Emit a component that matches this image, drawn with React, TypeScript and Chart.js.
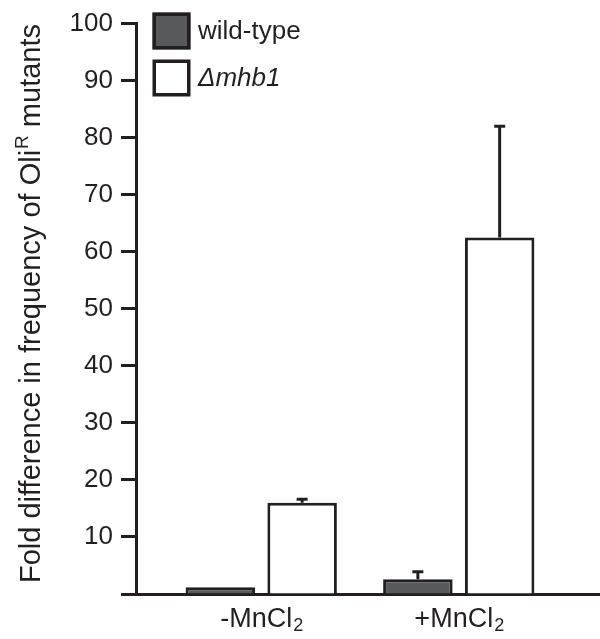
import React, { useEffect, useRef } from 'react';
import { Chart, registerables } from 'chart.js';

Chart.register(...registerables);

// ---- data ----
const categoryNames = ['-MnCl', '+MnCl'];
const categorySubscripts = ['2', '2'];
const seriesNames = ['wild-type', 'Δmhb1'];
const wildTypeValues = [1.2, 2.6];
const wildTypeErrors = [0, 1.3];
const mhb1Values = [16.0, 62.5];
const mhb1Errors = [0.6, 19.5];
const yMin = 0;
const yMax = 100;
const yStep = 10;
const yTitleMain = 'Fold difference in frequency of Oli';
const yTitleSup = 'R';
const yTitleEnd = ' mutants';

// ---- style ----
const INK = '#231f20';
const GREY = '#58595b';
const FONT = '"Liberation Sans", Arial, Helvetica, sans-serif';

const decorations = {
  id: 'decorations',
  afterDatasetsDraw(chart: any) {
    const ctx = chart.ctx;
    const yScale = chart.scales.y;
    chart.data.datasets.forEach((ds: any, di: number) => {
      const meta = chart.getDatasetMeta(di);
      meta.data.forEach((el: any, i: number) => {
        const e = ds.errors[i];
        if (!e) return;
        const v = ds.data[i].y;
        const yTop = yScale.getPixelForValue(v + e);
        const yBar = yScale.getPixelForValue(v);
        ctx.save();
        ctx.strokeStyle = INK;
        ctx.lineWidth = 3;
        ctx.beginPath();
        ctx.moveTo(el.x, yBar);
        ctx.lineTo(el.x, yTop);
        ctx.moveTo(el.x - 5.5, yTop);
        ctx.lineTo(el.x + 5.5, yTop);
        ctx.stroke();
        ctx.restore();
      });
    });
  },
  afterDraw(chart: any) {
    const ctx = chart.ctx;
    const xScale = chart.scales.x;
    const area = chart.chartArea;
    ctx.save();
    ctx.fillStyle = INK;
    ctx.textBaseline = 'alphabetic';
    ctx.textAlign = 'left';

    // x category labels with subscript
    categoryNames.forEach((name, i) => {
      const cx = xScale.getPixelForValue(i);
      ctx.font = `27px ${FONT}`;
      const w1 = ctx.measureText(name).width;
      ctx.font = `18px ${FONT}`;
      const w2 = ctx.measureText(categorySubscripts[i]).width;
      const start = cx - (w1 + w2) / 2;
      ctx.font = `27px ${FONT}`;
      ctx.fillText(name, start, area.bottom + 33);
      ctx.font = `18px ${FONT}`;
      ctx.fillText(categorySubscripts[i], start + w1 + 1, area.bottom + 37);
    });

    // y title, rotated, with superscript
    ctx.save();
    ctx.translate(40, area.bottom - 11);
    ctx.rotate(-Math.PI / 2);
    ctx.font = `29px ${FONT}`;
    const a = ctx.measureText(yTitleMain).width;
    ctx.fillText(yTitleMain, 0, 0);
    ctx.font = `19px ${FONT}`;
    const b = ctx.measureText(yTitleSup).width;
    ctx.fillText(yTitleSup, a + 1, -12);
    ctx.font = `29px ${FONT}`;
    ctx.fillText(yTitleEnd, a + b + 1, 0);
    ctx.restore();

    // legend
    const fills = [GREY, '#ffffff'];
    const boxTops = [12.5, 59.5];
    seriesNames.forEach((name, i) => {
      const bx = 152.5;
      const by = boxTops[i];
      ctx.fillStyle = fills[i];
      ctx.fillRect(bx, by, 38, 37);
      ctx.strokeStyle = INK;
      ctx.lineWidth = 3.5;
      ctx.strokeRect(bx + 1.75, by + 1.75, 34.5, 33.5);
      ctx.fillStyle = INK;
      ctx.font = `${i === 1 ? 'italic ' : ''}26px ${FONT}`;
      ctx.textBaseline = 'middle';
      ctx.fillText(name, 198, by + 19);
    });
    ctx.restore();
  },
};

export default function App() {
  const canvasRef = useRef<HTMLCanvasElement | null>(null);

  useEffect(() => {
    const canvas = canvasRef.current;
    if (!canvas) return;
    const chart = new Chart(canvas, {
      type: 'bar',
      data: {
        datasets: [
          {
            label: seriesNames[0],
            data: wildTypeValues.map((v, i) => ({ x: i, y: v })),
            errors: wildTypeErrors,
            backgroundColor: GREY,
            borderColor: INK,
            borderWidth: 3,
          } as any,
          {
            label: seriesNames[1],
            data: mhb1Values.map((v, i) => ({ x: i, y: v })),
            errors: mhb1Errors,
            backgroundColor: '#ffffff',
            borderColor: INK,
            borderWidth: 3,
          } as any,
        ],
      },
      options: {
        animation: false,
        responsive: false,
        devicePixelRatio: 1,
        categoryPercentage: 0.828,
        barPercentage: 0.85,
        layout: { padding: { top: 16, left: 0, right: 0, bottom: 0 } },
        plugins: {
          legend: { display: false },
          tooltip: { enabled: false },
          title: { display: false },
        },
        scales: {
          x: {
            type: 'linear',
            min: -0.634,
            max: 1.715,
            offset: false,
            z: 1,
            ticks: { display: false },
            grid: { display: false },
            border: { display: true, width: 3, color: INK },
            afterBuildTicks: (scale: any) => {
              scale.ticks = categoryNames.map((_, i) => ({ value: i }));
            },
            afterFit: (scale: any) => {
              scale.height = 45;
            },
          },
          y: {
            type: 'linear',
            min: yMin,
            max: yMax,
            ticks: {
              stepSize: yStep,
              color: INK,
              padding: 8,
              font: { family: FONT, size: 26 },
              callback: (v: any) => (v === 0 ? '' : String(v)),
            },
            grid: {
              display: true,
              drawOnChartArea: false,
              drawTicks: true,
              tickLength: 15,
              tickWidth: 3,
              tickColor: INK,
              color: INK,
            },
            border: { display: true, width: 3, color: INK },
            afterFit: (scale: any) => {
              scale.width = 136;
            },
          },
        },
      } as any,
      plugins: [decorations],
    });
    return () => chart.destroy();
  }, []);

  return (
    <div style={{ position: 'absolute', left: 0, top: 0, width: 600, height: 639, background: '#fff' }}>
      <canvas ref={canvasRef} width={600} height={639} style={{ display: 'block' }} />
    </div>
  );
}
